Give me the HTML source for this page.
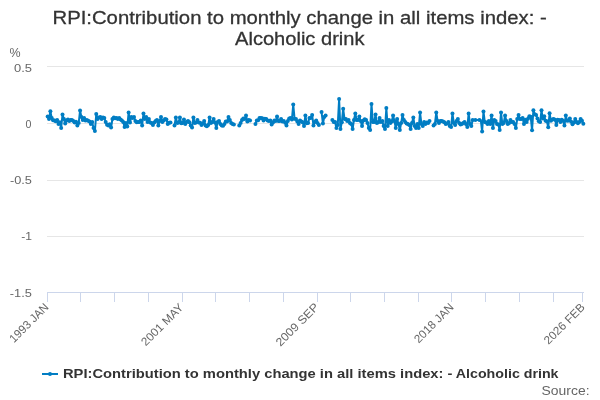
<!DOCTYPE html>
<html><head><meta charset="utf-8"><title>RPI:Contribution to monthly change in all items index: - Alcoholic drink</title>
<style>
html,body{margin:0;padding:0;background:#fff;}
body{width:600px;height:400px;overflow:hidden;font-family:"Liberation Sans",sans-serif;}
svg{display:block;font-family:"Liberation Sans",sans-serif;}
</style></head><body>
<svg width="600" height="400" viewBox="0 0 600 400">
<rect x="0" y="0" width="600" height="400" fill="#ffffff"/>

<g stroke="#e6e6e6" stroke-width="1" fill="none">
<path d="M 47.0 66.5 L 584.0 66.5"/>
<path d="M 47.0 123.5 L 584.0 123.5"/>
<path d="M 47.0 180.5 L 584.0 180.5"/>
<path d="M 47.0 236.5 L 584.0 236.5"/>
</g>
<path d="M 47.0 292.5 L 584.0 292.5" stroke="#ccd6eb" stroke-width="1" fill="none"/>
<g stroke="#ccd6eb" stroke-width="1" fill="none">
<path d="M 47.5 292 L 47.5 302"/>
<path d="M 80.5 292 L 80.5 302"/>
<path d="M 114.5 292 L 114.5 302"/>
<path d="M 148.5 292 L 148.5 302"/>
<path d="M 182.5 292 L 182.5 302"/>
<path d="M 215.5 292 L 215.5 302"/>
<path d="M 249.5 292 L 249.5 302"/>
<path d="M 283.5 292 L 283.5 302"/>
<path d="M 317.5 292 L 317.5 302"/>
<path d="M 350.5 292 L 350.5 302"/>
<path d="M 384.5 292 L 384.5 302"/>
<path d="M 418.5 292 L 418.5 302"/>
<path d="M 451.5 292 L 451.5 302"/>
<path d="M 485.5 292 L 485.5 302"/>
<path d="M 519.5 292 L 519.5 302"/>
<path d="M 553.5 292 L 553.5 302"/>
<path d="M 582.5 292 L 582.5 302"/>
</g>
<g fill="none" stroke="#007dc3" stroke-width="2" stroke-linejoin="round" stroke-linecap="round">
<path d="M 47.67 116.50 L 49.02 119.00 L 50.37 111.20 L 51.72 118.01 L 53.07 120.15 L 54.42 120.50 L 55.77 121.16 L 57.12 120.01 L 58.47 123.99 L 59.82 122.30 L 61.17 127.99 L 62.52 114.50 L 63.87 119.00 L 65.21 123.50 L 66.56 120.50 L 67.91 119.43 L 69.26 121.07 L 70.61 120.01 L 71.96 120.05 L 73.31 121.00 L 74.66 122.50 L 76.01 121.77 L 77.36 125.50 L 78.71 123.00 L 80.06 110.50 L 81.41 117.00 L 82.76 120.01 L 84.10 118.01 L 85.45 120.50 L 86.80 119.93 L 88.15 120.72 L 89.50 121.50 L 90.85 123.99 L 92.20 122.10 L 93.55 127.99 L 94.90 131.00 L 96.25 114.01 L 97.60 119.00 L 98.95 117.55 L 100.30 117.00 L 101.64 119.00 L 102.99 117.60 L 104.34 118.01 L 105.69 122.01 L 107.04 124.65 L 108.39 125.50 L 109.74 124.23 L 111.09 127.50 L 112.44 119.00 L 113.79 117.50 L 115.14 118.20 L 116.49 118.01 L 117.84 118.95 L 119.18 118.10 L 120.53 119.50 L 121.88 120.50 L 123.23 122.01 L 124.58 127.00 L 125.93 123.10 L 127.28 126.50 L 128.63 112.50 L 129.98 122.50 L 131.33 117.00 L 132.68 118.01 L 134.03 117.00 L 135.38 121.00 L 136.72 122.24 L 138.07 122.12 L 139.42 122.01 L 140.77 120.55 L 142.12 125.50 L 143.47 113.50 L 144.82 118.91 L 146.17 117.00 L 147.52 122.01 L 148.87 119.00 L 150.22 122.50 L 151.57 122.95 L 152.92 125.00 L 154.27 122.50 L 155.61 121.00 L 156.96 120.10 L 158.31 125.50 L 159.66 121.00 L 161.01 117.00 L 162.36 122.01 L 163.71 120.50 L 165.06 119.10 L 166.41 119.50 L 167.76 123.99 L 169.11 122.80 L 170.46 122.50"/>
<path d="M 174.50 125.50 L 175.85 117.50 L 177.20 123.05 L 178.55 122.50 L 179.90 117.50 L 181.25 123.28 L 182.60 123.00 L 183.95 119.50 L 185.30 123.99 L 186.65 122.05 L 188.00 121.00 L 189.35 122.34 L 190.69 125.50 L 192.04 127.50 L 193.39 117.50 L 194.74 123.00 L 196.09 122.40 L 197.44 120.01 L 198.79 122.50 L 200.14 122.84 L 201.49 125.00 L 202.84 123.45 L 204.19 121.00 L 205.54 125.50 L 206.89 126.15 L 208.23 125.00 L 209.58 117.50 L 210.93 123.00 L 212.28 121.90 L 213.63 119.00 L 214.98 122.50 L 216.33 127.99 L 217.68 121.95 L 219.03 121.00 L 220.38 123.99 L 221.73 125.50 L 223.08 125.66 L 224.43 123.99 L 225.78 121.50 L 227.12 121.45 L 228.47 117.00 L 229.82 120.01 L 231.17 122.91 L 232.52 123.99 L 233.87 124.50"/>
<path d="M 239.27 125.50 L 240.62 123.00 L 241.97 120.01 L 243.32 118.59 L 244.66 119.00 L 246.01 115.50 L 247.36 121.50 L 248.71 120.01 L 250.06 120.50"/>
<path d="M 255.46 123.99 L 256.81 120.50 L 258.16 120.15 L 259.51 118.01 L 260.86 118.01 L 262.20 118.34 L 263.55 120.50 L 264.90 118.84 L 266.25 119.00 L 267.60 120.46 L 268.95 121.00 L 270.30 120.59 L 271.65 124.50 L 273.00 122.50 L 274.35 120.50 L 275.70 121.12 L 277.05 116.50 L 278.40 121.00 L 279.74 120.91 L 281.09 119.00 L 282.44 121.50 L 283.79 121.00 L 285.14 122.80 L 286.49 125.50 L 287.84 121.00 L 289.19 118.59 L 290.54 118.01 L 291.89 119.50 L 293.24 104.50 L 294.59 118.72 L 295.94 119.00 L 297.29 121.50 L 298.63 123.99 L 299.98 120.50 L 301.33 121.50 L 302.68 122.25 L 304.03 125.99 L 305.38 115.50 L 306.73 123.15 L 308.08 123.00 L 309.43 118.01 L 310.78 118.10 L 312.13 115.00 L 313.48 125.50 L 314.83 122.01 L 316.17 120.50 L 317.52 123.00 L 318.87 125.00"/>
<path d="M 321.57 112.01 L 322.92 123.50 L 324.27 117.00 L 325.62 115.55"/>
<path d="M 332.37 120.01 L 333.71 121.90 L 335.06 122.01 L 336.41 127.99 L 337.76 125.00 L 339.11 99.00 L 340.46 129.00 L 341.81 122.30 L 343.16 108.71 L 344.51 119.00 L 345.86 119.10 L 347.21 121.00 L 348.56 120.01 L 349.91 122.91 L 351.26 123.99 L 352.60 129.00 L 353.95 120.01 L 355.30 113.50 L 356.65 120.01 L 358.00 119.88 L 359.35 116.50 L 360.70 121.00 L 362.05 125.99 L 363.40 120.50 L 364.75 119.35 L 366.10 120.01 L 367.45 123.00 L 368.80 127.99 L 370.14 129.99 L 371.49 104.00 L 372.84 122.01 L 374.19 121.88 L 375.54 114.50 L 376.89 123.00 L 378.24 122.22 L 379.59 118.01 L 380.94 122.01 L 382.29 121.00 L 383.64 125.99 L 384.99 129.00 L 386.34 108.00 L 387.68 125.99 L 389.03 120.01 L 390.38 123.00 L 391.73 121.43 L 393.08 115.50 L 394.43 121.00 L 395.78 127.99 L 397.13 119.00 L 398.48 123.99 L 399.83 129.99 L 401.18 123.00 L 402.53 115.00 L 403.88 120.01 L 405.22 122.01 L 406.57 123.45 L 407.92 123.99 L 409.27 125.00 L 410.62 129.00 L 411.97 123.00 L 413.32 117.50 L 414.67 125.99 L 416.02 127.99 L 417.37 123.99 L 418.72 127.99 L 420.07 112.50 L 421.42 123.99 L 422.77 125.99 L 424.11 122.01 L 425.46 123.99 L 426.81 122.59 L 428.16 123.00 L 429.51 121.00"/>
<path d="M 433.56 125.50 L 434.91 123.99 L 436.26 112.50 L 437.61 121.00 L 438.96 123.00 L 440.31 121.10 L 441.65 121.00 L 443.00 121.50 L 444.35 122.30 L 445.70 123.99 L 447.05 123.45 L 448.40 122.01 L 449.75 125.99 L 451.10 127.00 L 452.45 113.50 L 453.80 123.00 L 455.15 125.00 L 456.50 121.00 L 457.85 119.00 L 459.19 123.00 L 460.54 124.40 L 461.89 123.99 L 463.24 123.00 L 464.59 122.01 L 465.94 123.99 L 467.29 127.00 L 468.64 113.50 L 469.99 123.99 L 471.34 125.99 L 472.69 120.01 L 474.04 120.01 L 475.39 120.01 L 476.73 120.01 L 478.08 120.01 L 479.43 120.01 L 480.78 120.01 L 482.13 131.50 L 483.48 111.50 L 484.83 122.01 L 486.18 122.55 L 487.53 123.99 L 488.88 121.00 L 490.23 123.99 L 491.58 115.50 L 492.93 127.99 L 494.28 120.01 L 495.62 121.00 L 496.97 123.99 L 498.32 124.45 L 499.67 129.99 L 501.02 112.50 L 502.37 123.99 L 503.72 123.00 L 505.07 115.50 L 506.42 121.00 L 507.77 123.99 L 509.12 122.91 L 510.47 120.01 L 511.82 122.01 L 513.16 122.10 L 514.51 123.99 L 515.86 127.99 L 517.21 119.00 L 518.56 115.00 L 519.91 119.00 L 521.26 118.95 L 522.61 118.01 L 523.96 123.99 L 525.31 119.67 L 526.66 122.01 L 528.01 118.63 L 529.36 116.16 L 530.70 116.84 L 532.05 130.16 L 533.40 110.33 L 534.75 114.33 L 536.10 115.00 L 537.45 118.50 L 538.80 121.16 L 540.15 122.01 L 541.50 110.33 L 542.85 118.56 L 544.20 116.16 L 545.55 120.83 L 546.90 121.28 L 548.24 127.25 L 549.59 113.25 L 550.94 120.83 L 552.29 119.51 L 553.64 119.08 L 554.99 119.73 L 556.34 124.92 L 557.69 119.67 L 559.04 119.93 L 560.39 122.01 L 561.74 119.67 L 563.09 120.86 L 564.44 125.50 L 565.79 115.59 L 567.13 120.83 L 568.48 120.57 L 569.83 118.50 L 571.18 121.87 L 572.53 124.33 L 573.88 122.62 L 575.23 119.08 L 576.58 122.03 L 577.93 123.17 L 579.28 122.03 L 580.63 119.08 L 581.98 120.83 L 583.33 123.75"/>
</g>
<g fill="#007dc3" stroke="none">
<circle cx="47.67" cy="116.50" r="2"/>
<circle cx="49.02" cy="119.00" r="2"/>
<circle cx="50.37" cy="111.20" r="2"/>
<circle cx="51.72" cy="118.01" r="2"/>
<circle cx="53.07" cy="120.15" r="2"/>
<circle cx="54.42" cy="120.50" r="2"/>
<circle cx="55.77" cy="121.16" r="2"/>
<circle cx="57.12" cy="120.01" r="2"/>
<circle cx="58.47" cy="123.99" r="2"/>
<circle cx="59.82" cy="122.30" r="2"/>
<circle cx="61.17" cy="127.99" r="2"/>
<circle cx="62.52" cy="114.50" r="2"/>
<circle cx="63.87" cy="119.00" r="2"/>
<circle cx="65.21" cy="123.50" r="2"/>
<circle cx="66.56" cy="120.50" r="2"/>
<circle cx="67.91" cy="119.43" r="2"/>
<circle cx="69.26" cy="121.07" r="2"/>
<circle cx="70.61" cy="120.01" r="2"/>
<circle cx="71.96" cy="120.05" r="2"/>
<circle cx="73.31" cy="121.00" r="2"/>
<circle cx="74.66" cy="122.50" r="2"/>
<circle cx="76.01" cy="121.77" r="2"/>
<circle cx="77.36" cy="125.50" r="2"/>
<circle cx="78.71" cy="123.00" r="2"/>
<circle cx="80.06" cy="110.50" r="2"/>
<circle cx="81.41" cy="117.00" r="2"/>
<circle cx="82.76" cy="120.01" r="2"/>
<circle cx="84.10" cy="118.01" r="2"/>
<circle cx="85.45" cy="120.50" r="2"/>
<circle cx="86.80" cy="119.93" r="2"/>
<circle cx="88.15" cy="120.72" r="2"/>
<circle cx="89.50" cy="121.50" r="2"/>
<circle cx="90.85" cy="123.99" r="2"/>
<circle cx="92.20" cy="122.10" r="2"/>
<circle cx="93.55" cy="127.99" r="2"/>
<circle cx="94.90" cy="131.00" r="2"/>
<circle cx="96.25" cy="114.01" r="2"/>
<circle cx="97.60" cy="119.00" r="2"/>
<circle cx="98.95" cy="117.55" r="2"/>
<circle cx="100.30" cy="117.00" r="2"/>
<circle cx="101.64" cy="119.00" r="2"/>
<circle cx="102.99" cy="117.60" r="2"/>
<circle cx="104.34" cy="118.01" r="2"/>
<circle cx="105.69" cy="122.01" r="2"/>
<circle cx="107.04" cy="124.65" r="2"/>
<circle cx="108.39" cy="125.50" r="2"/>
<circle cx="109.74" cy="124.23" r="2"/>
<circle cx="111.09" cy="127.50" r="2"/>
<circle cx="112.44" cy="119.00" r="2"/>
<circle cx="113.79" cy="117.50" r="2"/>
<circle cx="115.14" cy="118.20" r="2"/>
<circle cx="116.49" cy="118.01" r="2"/>
<circle cx="117.84" cy="118.95" r="2"/>
<circle cx="119.18" cy="118.10" r="2"/>
<circle cx="120.53" cy="119.50" r="2"/>
<circle cx="121.88" cy="120.50" r="2"/>
<circle cx="123.23" cy="122.01" r="2"/>
<circle cx="124.58" cy="127.00" r="2"/>
<circle cx="125.93" cy="123.10" r="2"/>
<circle cx="127.28" cy="126.50" r="2"/>
<circle cx="128.63" cy="112.50" r="2"/>
<circle cx="129.98" cy="122.50" r="2"/>
<circle cx="131.33" cy="117.00" r="2"/>
<circle cx="132.68" cy="118.01" r="2"/>
<circle cx="134.03" cy="117.00" r="2"/>
<circle cx="135.38" cy="121.00" r="2"/>
<circle cx="136.72" cy="122.24" r="2"/>
<circle cx="138.07" cy="122.12" r="2"/>
<circle cx="139.42" cy="122.01" r="2"/>
<circle cx="140.77" cy="120.55" r="2"/>
<circle cx="142.12" cy="125.50" r="2"/>
<circle cx="143.47" cy="113.50" r="2"/>
<circle cx="144.82" cy="118.91" r="2"/>
<circle cx="146.17" cy="117.00" r="2"/>
<circle cx="147.52" cy="122.01" r="2"/>
<circle cx="148.87" cy="119.00" r="2"/>
<circle cx="150.22" cy="122.50" r="2"/>
<circle cx="151.57" cy="122.95" r="2"/>
<circle cx="152.92" cy="125.00" r="2"/>
<circle cx="154.27" cy="122.50" r="2"/>
<circle cx="155.61" cy="121.00" r="2"/>
<circle cx="156.96" cy="120.10" r="2"/>
<circle cx="158.31" cy="125.50" r="2"/>
<circle cx="159.66" cy="121.00" r="2"/>
<circle cx="161.01" cy="117.00" r="2"/>
<circle cx="162.36" cy="122.01" r="2"/>
<circle cx="163.71" cy="120.50" r="2"/>
<circle cx="165.06" cy="119.10" r="2"/>
<circle cx="166.41" cy="119.50" r="2"/>
<circle cx="167.76" cy="123.99" r="2"/>
<circle cx="169.11" cy="122.80" r="2"/>
<circle cx="170.46" cy="122.50" r="2"/>
<circle cx="174.50" cy="125.50" r="2"/>
<circle cx="175.85" cy="117.50" r="2"/>
<circle cx="177.20" cy="123.05" r="2"/>
<circle cx="178.55" cy="122.50" r="2"/>
<circle cx="179.90" cy="117.50" r="2"/>
<circle cx="181.25" cy="123.28" r="2"/>
<circle cx="182.60" cy="123.00" r="2"/>
<circle cx="183.95" cy="119.50" r="2"/>
<circle cx="185.30" cy="123.99" r="2"/>
<circle cx="186.65" cy="122.05" r="2"/>
<circle cx="188.00" cy="121.00" r="2"/>
<circle cx="189.35" cy="122.34" r="2"/>
<circle cx="190.69" cy="125.50" r="2"/>
<circle cx="192.04" cy="127.50" r="2"/>
<circle cx="193.39" cy="117.50" r="2"/>
<circle cx="194.74" cy="123.00" r="2"/>
<circle cx="196.09" cy="122.40" r="2"/>
<circle cx="197.44" cy="120.01" r="2"/>
<circle cx="198.79" cy="122.50" r="2"/>
<circle cx="200.14" cy="122.84" r="2"/>
<circle cx="201.49" cy="125.00" r="2"/>
<circle cx="202.84" cy="123.45" r="2"/>
<circle cx="204.19" cy="121.00" r="2"/>
<circle cx="205.54" cy="125.50" r="2"/>
<circle cx="206.89" cy="126.15" r="2"/>
<circle cx="208.23" cy="125.00" r="2"/>
<circle cx="209.58" cy="117.50" r="2"/>
<circle cx="210.93" cy="123.00" r="2"/>
<circle cx="212.28" cy="121.90" r="2"/>
<circle cx="213.63" cy="119.00" r="2"/>
<circle cx="214.98" cy="122.50" r="2"/>
<circle cx="216.33" cy="127.99" r="2"/>
<circle cx="217.68" cy="121.95" r="2"/>
<circle cx="219.03" cy="121.00" r="2"/>
<circle cx="220.38" cy="123.99" r="2"/>
<circle cx="221.73" cy="125.50" r="2"/>
<circle cx="223.08" cy="125.66" r="2"/>
<circle cx="224.43" cy="123.99" r="2"/>
<circle cx="225.78" cy="121.50" r="2"/>
<circle cx="227.12" cy="121.45" r="2"/>
<circle cx="228.47" cy="117.00" r="2"/>
<circle cx="229.82" cy="120.01" r="2"/>
<circle cx="231.17" cy="122.91" r="2"/>
<circle cx="232.52" cy="123.99" r="2"/>
<circle cx="233.87" cy="124.50" r="2"/>
<circle cx="239.27" cy="125.50" r="2"/>
<circle cx="240.62" cy="123.00" r="2"/>
<circle cx="241.97" cy="120.01" r="2"/>
<circle cx="243.32" cy="118.59" r="2"/>
<circle cx="244.66" cy="119.00" r="2"/>
<circle cx="246.01" cy="115.50" r="2"/>
<circle cx="247.36" cy="121.50" r="2"/>
<circle cx="248.71" cy="120.01" r="2"/>
<circle cx="250.06" cy="120.50" r="2"/>
<circle cx="255.46" cy="123.99" r="2"/>
<circle cx="256.81" cy="120.50" r="2"/>
<circle cx="258.16" cy="120.15" r="2"/>
<circle cx="259.51" cy="118.01" r="2"/>
<circle cx="260.86" cy="118.01" r="2"/>
<circle cx="262.20" cy="118.34" r="2"/>
<circle cx="263.55" cy="120.50" r="2"/>
<circle cx="264.90" cy="118.84" r="2"/>
<circle cx="266.25" cy="119.00" r="2"/>
<circle cx="267.60" cy="120.46" r="2"/>
<circle cx="268.95" cy="121.00" r="2"/>
<circle cx="270.30" cy="120.59" r="2"/>
<circle cx="271.65" cy="124.50" r="2"/>
<circle cx="273.00" cy="122.50" r="2"/>
<circle cx="274.35" cy="120.50" r="2"/>
<circle cx="275.70" cy="121.12" r="2"/>
<circle cx="277.05" cy="116.50" r="2"/>
<circle cx="278.40" cy="121.00" r="2"/>
<circle cx="279.74" cy="120.91" r="2"/>
<circle cx="281.09" cy="119.00" r="2"/>
<circle cx="282.44" cy="121.50" r="2"/>
<circle cx="283.79" cy="121.00" r="2"/>
<circle cx="285.14" cy="122.80" r="2"/>
<circle cx="286.49" cy="125.50" r="2"/>
<circle cx="287.84" cy="121.00" r="2"/>
<circle cx="289.19" cy="118.59" r="2"/>
<circle cx="290.54" cy="118.01" r="2"/>
<circle cx="291.89" cy="119.50" r="2"/>
<circle cx="293.24" cy="104.50" r="2"/>
<circle cx="294.59" cy="118.72" r="2"/>
<circle cx="295.94" cy="119.00" r="2"/>
<circle cx="297.29" cy="121.50" r="2"/>
<circle cx="298.63" cy="123.99" r="2"/>
<circle cx="299.98" cy="120.50" r="2"/>
<circle cx="301.33" cy="121.50" r="2"/>
<circle cx="302.68" cy="122.25" r="2"/>
<circle cx="304.03" cy="125.99" r="2"/>
<circle cx="305.38" cy="115.50" r="2"/>
<circle cx="306.73" cy="123.15" r="2"/>
<circle cx="308.08" cy="123.00" r="2"/>
<circle cx="309.43" cy="118.01" r="2"/>
<circle cx="310.78" cy="118.10" r="2"/>
<circle cx="312.13" cy="115.00" r="2"/>
<circle cx="313.48" cy="125.50" r="2"/>
<circle cx="314.83" cy="122.01" r="2"/>
<circle cx="316.17" cy="120.50" r="2"/>
<circle cx="317.52" cy="123.00" r="2"/>
<circle cx="318.87" cy="125.00" r="2"/>
<circle cx="321.57" cy="112.01" r="2"/>
<circle cx="322.92" cy="123.50" r="2"/>
<circle cx="324.27" cy="117.00" r="2"/>
<circle cx="325.62" cy="115.55" r="2"/>
<circle cx="332.37" cy="120.01" r="2"/>
<circle cx="333.71" cy="121.90" r="2"/>
<circle cx="335.06" cy="122.01" r="2"/>
<circle cx="336.41" cy="127.99" r="2"/>
<circle cx="337.76" cy="125.00" r="2"/>
<circle cx="339.11" cy="99.00" r="2"/>
<circle cx="340.46" cy="129.00" r="2"/>
<circle cx="341.81" cy="122.30" r="2"/>
<circle cx="343.16" cy="108.71" r="2"/>
<circle cx="344.51" cy="119.00" r="2"/>
<circle cx="345.86" cy="119.10" r="2"/>
<circle cx="347.21" cy="121.00" r="2"/>
<circle cx="348.56" cy="120.01" r="2"/>
<circle cx="349.91" cy="122.91" r="2"/>
<circle cx="351.26" cy="123.99" r="2"/>
<circle cx="352.60" cy="129.00" r="2"/>
<circle cx="353.95" cy="120.01" r="2"/>
<circle cx="355.30" cy="113.50" r="2"/>
<circle cx="356.65" cy="120.01" r="2"/>
<circle cx="358.00" cy="119.88" r="2"/>
<circle cx="359.35" cy="116.50" r="2"/>
<circle cx="360.70" cy="121.00" r="2"/>
<circle cx="362.05" cy="125.99" r="2"/>
<circle cx="363.40" cy="120.50" r="2"/>
<circle cx="364.75" cy="119.35" r="2"/>
<circle cx="366.10" cy="120.01" r="2"/>
<circle cx="367.45" cy="123.00" r="2"/>
<circle cx="368.80" cy="127.99" r="2"/>
<circle cx="370.14" cy="129.99" r="2"/>
<circle cx="371.49" cy="104.00" r="2"/>
<circle cx="372.84" cy="122.01" r="2"/>
<circle cx="374.19" cy="121.88" r="2"/>
<circle cx="375.54" cy="114.50" r="2"/>
<circle cx="376.89" cy="123.00" r="2"/>
<circle cx="378.24" cy="122.22" r="2"/>
<circle cx="379.59" cy="118.01" r="2"/>
<circle cx="380.94" cy="122.01" r="2"/>
<circle cx="382.29" cy="121.00" r="2"/>
<circle cx="383.64" cy="125.99" r="2"/>
<circle cx="384.99" cy="129.00" r="2"/>
<circle cx="386.34" cy="108.00" r="2"/>
<circle cx="387.68" cy="125.99" r="2"/>
<circle cx="389.03" cy="120.01" r="2"/>
<circle cx="390.38" cy="123.00" r="2"/>
<circle cx="391.73" cy="121.43" r="2"/>
<circle cx="393.08" cy="115.50" r="2"/>
<circle cx="394.43" cy="121.00" r="2"/>
<circle cx="395.78" cy="127.99" r="2"/>
<circle cx="397.13" cy="119.00" r="2"/>
<circle cx="398.48" cy="123.99" r="2"/>
<circle cx="399.83" cy="129.99" r="2"/>
<circle cx="401.18" cy="123.00" r="2"/>
<circle cx="402.53" cy="115.00" r="2"/>
<circle cx="403.88" cy="120.01" r="2"/>
<circle cx="405.22" cy="122.01" r="2"/>
<circle cx="406.57" cy="123.45" r="2"/>
<circle cx="407.92" cy="123.99" r="2"/>
<circle cx="409.27" cy="125.00" r="2"/>
<circle cx="410.62" cy="129.00" r="2"/>
<circle cx="411.97" cy="123.00" r="2"/>
<circle cx="413.32" cy="117.50" r="2"/>
<circle cx="414.67" cy="125.99" r="2"/>
<circle cx="416.02" cy="127.99" r="2"/>
<circle cx="417.37" cy="123.99" r="2"/>
<circle cx="418.72" cy="127.99" r="2"/>
<circle cx="420.07" cy="112.50" r="2"/>
<circle cx="421.42" cy="123.99" r="2"/>
<circle cx="422.77" cy="125.99" r="2"/>
<circle cx="424.11" cy="122.01" r="2"/>
<circle cx="425.46" cy="123.99" r="2"/>
<circle cx="426.81" cy="122.59" r="2"/>
<circle cx="428.16" cy="123.00" r="2"/>
<circle cx="429.51" cy="121.00" r="2"/>
<circle cx="433.56" cy="125.50" r="2"/>
<circle cx="434.91" cy="123.99" r="2"/>
<circle cx="436.26" cy="112.50" r="2"/>
<circle cx="437.61" cy="121.00" r="2"/>
<circle cx="438.96" cy="123.00" r="2"/>
<circle cx="440.31" cy="121.10" r="2"/>
<circle cx="441.65" cy="121.00" r="2"/>
<circle cx="443.00" cy="121.50" r="2"/>
<circle cx="444.35" cy="122.30" r="2"/>
<circle cx="445.70" cy="123.99" r="2"/>
<circle cx="447.05" cy="123.45" r="2"/>
<circle cx="448.40" cy="122.01" r="2"/>
<circle cx="449.75" cy="125.99" r="2"/>
<circle cx="451.10" cy="127.00" r="2"/>
<circle cx="452.45" cy="113.50" r="2"/>
<circle cx="453.80" cy="123.00" r="2"/>
<circle cx="455.15" cy="125.00" r="2"/>
<circle cx="456.50" cy="121.00" r="2"/>
<circle cx="457.85" cy="119.00" r="2"/>
<circle cx="459.19" cy="123.00" r="2"/>
<circle cx="460.54" cy="124.40" r="2"/>
<circle cx="461.89" cy="123.99" r="2"/>
<circle cx="463.24" cy="123.00" r="2"/>
<circle cx="464.59" cy="122.01" r="2"/>
<circle cx="465.94" cy="123.99" r="2"/>
<circle cx="467.29" cy="127.00" r="2"/>
<circle cx="468.64" cy="113.50" r="2"/>
<circle cx="469.99" cy="123.99" r="2"/>
<circle cx="471.34" cy="125.99" r="2"/>
<circle cx="472.69" cy="120.01" r="2"/>
<circle cx="475.39" cy="120.01" r="2"/>
<circle cx="479.43" cy="120.01" r="2"/>
<circle cx="482.13" cy="131.50" r="2"/>
<circle cx="483.48" cy="111.50" r="2"/>
<circle cx="484.83" cy="122.01" r="2"/>
<circle cx="486.18" cy="122.55" r="2"/>
<circle cx="487.53" cy="123.99" r="2"/>
<circle cx="488.88" cy="121.00" r="2"/>
<circle cx="490.23" cy="123.99" r="2"/>
<circle cx="491.58" cy="115.50" r="2"/>
<circle cx="492.93" cy="127.99" r="2"/>
<circle cx="494.28" cy="120.01" r="2"/>
<circle cx="495.62" cy="121.00" r="2"/>
<circle cx="496.97" cy="123.99" r="2"/>
<circle cx="498.32" cy="124.45" r="2"/>
<circle cx="499.67" cy="129.99" r="2"/>
<circle cx="501.02" cy="112.50" r="2"/>
<circle cx="502.37" cy="123.99" r="2"/>
<circle cx="503.72" cy="123.00" r="2"/>
<circle cx="505.07" cy="115.50" r="2"/>
<circle cx="506.42" cy="121.00" r="2"/>
<circle cx="507.77" cy="123.99" r="2"/>
<circle cx="509.12" cy="122.91" r="2"/>
<circle cx="510.47" cy="120.01" r="2"/>
<circle cx="511.82" cy="122.01" r="2"/>
<circle cx="513.16" cy="122.10" r="2"/>
<circle cx="514.51" cy="123.99" r="2"/>
<circle cx="515.86" cy="127.99" r="2"/>
<circle cx="517.21" cy="119.00" r="2"/>
<circle cx="518.56" cy="115.00" r="2"/>
<circle cx="519.91" cy="119.00" r="2"/>
<circle cx="521.26" cy="118.95" r="2"/>
<circle cx="522.61" cy="118.01" r="2"/>
<circle cx="523.96" cy="123.99" r="2"/>
<circle cx="525.31" cy="119.67" r="2"/>
<circle cx="526.66" cy="122.01" r="2"/>
<circle cx="528.01" cy="118.63" r="2"/>
<circle cx="529.36" cy="116.16" r="2"/>
<circle cx="530.70" cy="116.84" r="2"/>
<circle cx="532.05" cy="130.16" r="2"/>
<circle cx="533.40" cy="110.33" r="2"/>
<circle cx="534.75" cy="114.33" r="2"/>
<circle cx="536.10" cy="115.00" r="2"/>
<circle cx="537.45" cy="118.50" r="2"/>
<circle cx="538.80" cy="121.16" r="2"/>
<circle cx="540.15" cy="122.01" r="2"/>
<circle cx="541.50" cy="110.33" r="2"/>
<circle cx="542.85" cy="118.56" r="2"/>
<circle cx="544.20" cy="116.16" r="2"/>
<circle cx="545.55" cy="120.83" r="2"/>
<circle cx="546.90" cy="121.28" r="2"/>
<circle cx="548.24" cy="127.25" r="2"/>
<circle cx="549.59" cy="113.25" r="2"/>
<circle cx="550.94" cy="120.83" r="2"/>
<circle cx="552.29" cy="119.51" r="2"/>
<circle cx="553.64" cy="119.08" r="2"/>
<circle cx="554.99" cy="119.73" r="2"/>
<circle cx="556.34" cy="124.92" r="2"/>
<circle cx="557.69" cy="119.67" r="2"/>
<circle cx="559.04" cy="119.93" r="2"/>
<circle cx="560.39" cy="122.01" r="2"/>
<circle cx="561.74" cy="119.67" r="2"/>
<circle cx="563.09" cy="120.86" r="2"/>
<circle cx="564.44" cy="125.50" r="2"/>
<circle cx="565.79" cy="115.59" r="2"/>
<circle cx="567.13" cy="120.83" r="2"/>
<circle cx="568.48" cy="120.57" r="2"/>
<circle cx="569.83" cy="118.50" r="2"/>
<circle cx="571.18" cy="121.87" r="2"/>
<circle cx="572.53" cy="124.33" r="2"/>
<circle cx="573.88" cy="122.62" r="2"/>
<circle cx="575.23" cy="119.08" r="2"/>
<circle cx="576.58" cy="122.03" r="2"/>
<circle cx="577.93" cy="123.17" r="2"/>
<circle cx="579.28" cy="122.03" r="2"/>
<circle cx="580.63" cy="119.08" r="2"/>
<circle cx="581.98" cy="120.83" r="2"/>
<circle cx="583.33" cy="123.75" r="2"/>
</g>
<path d="M 42 374 L 58 374" stroke="#007dc3" stroke-width="2" fill="none"/>
<circle cx="50" cy="374" r="2" fill="#007dc3"/>
<g style="will-change:transform">
<text id="t1" x="52.491" y="24" text-anchor="start" font-size="19.0px" font-weight="normal" fill="#333333" stroke="#333333" stroke-width="0.3" textLength="494.22" lengthAdjust="spacingAndGlyphs">RPI:Contribution to monthly change in all items index: -</text>
<text id="t2" x="235.042" y="45" text-anchor="start" font-size="19.0px" font-weight="normal" fill="#333333" stroke="#333333" stroke-width="0.3" textLength="129.45" lengthAdjust="spacingAndGlyphs">Alcoholic drink</text>
<text id="yt" x="9.449" y="57" text-anchor="start" font-size="12.6px" font-weight="normal" fill="#666666" textLength="11.08" lengthAdjust="spacingAndGlyphs">%</text>
<text id="y0" x="14.083" y="72" text-anchor="start" font-size="11.6px" font-weight="normal" fill="#666666" textLength="17.97" lengthAdjust="spacingAndGlyphs">0.5</text>
<text id="y1" x="25.485" y="128" text-anchor="start" font-size="11.6px" font-weight="normal" fill="#666666" textLength="5.92" lengthAdjust="spacingAndGlyphs">0</text>
<text id="y2" x="9.935" y="184" text-anchor="start" font-size="11.6px" font-weight="normal" fill="#666666" textLength="21.95" lengthAdjust="spacingAndGlyphs">-0.5</text>
<text id="y3" x="21.188" y="240" text-anchor="start" font-size="11.6px" font-weight="normal" fill="#666666" textLength="10.77" lengthAdjust="spacingAndGlyphs">-1</text>
<text id="y4" x="9.862" y="297" text-anchor="start" font-size="11.6px" font-weight="normal" fill="#666666" textLength="22.04" lengthAdjust="spacingAndGlyphs">-1.5</text>
<text id="x0" x="-0.513" y="307.922" text-anchor="start" font-size="11.6px" font-weight="normal" fill="#666666" transform="rotate(-45 49.417 307.922)" textLength="49.93" lengthAdjust="spacingAndGlyphs">1993 JAN</text>
<text id="x1" x="129.875" y="308.223" text-anchor="start" font-size="11.6px" font-weight="normal" fill="#666666" transform="rotate(-45 184.156 308.223)" textLength="54.28" lengthAdjust="spacingAndGlyphs">2001 MAY</text>
<text id="x2" x="264.221" y="307.809" text-anchor="start" font-size="11.6px" font-weight="normal" fill="#666666" transform="rotate(-45 319.591 307.809)" textLength="55.37" lengthAdjust="spacingAndGlyphs">2009 SEP</text>
<text id="x3" x="403.814" y="307.836" text-anchor="start" font-size="11.6px" font-weight="normal" fill="#666666" transform="rotate(-45 454.515 307.836)" textLength="50.70" lengthAdjust="spacingAndGlyphs">2018 JAN</text>
<text id="x4" x="533.248" y="308.024" text-anchor="start" font-size="11.6px" font-weight="normal" fill="#666666" transform="rotate(-45 585.604 308.024)" textLength="52.36" lengthAdjust="spacingAndGlyphs">2026 FEB</text>
<text id="lg1" x="62.965" y="378" text-anchor="start" font-size="12.7px" font-weight="bold" fill="#333333" textLength="389.49" lengthAdjust="spacingAndGlyphs">RPI:Contribution to monthly change in all items index: -</text>
<text id="lg2" x="455.789" y="378" text-anchor="start" font-size="12.7px" font-weight="bold" fill="#333333" textLength="102.77" lengthAdjust="spacingAndGlyphs">Alcoholic drink</text>
<text id="cr" x="541.548" y="395" text-anchor="start" font-size="12.6px" font-weight="normal" fill="#666666" textLength="47.98" lengthAdjust="spacingAndGlyphs">Source:</text>
</g>
</svg>
</body></html>
